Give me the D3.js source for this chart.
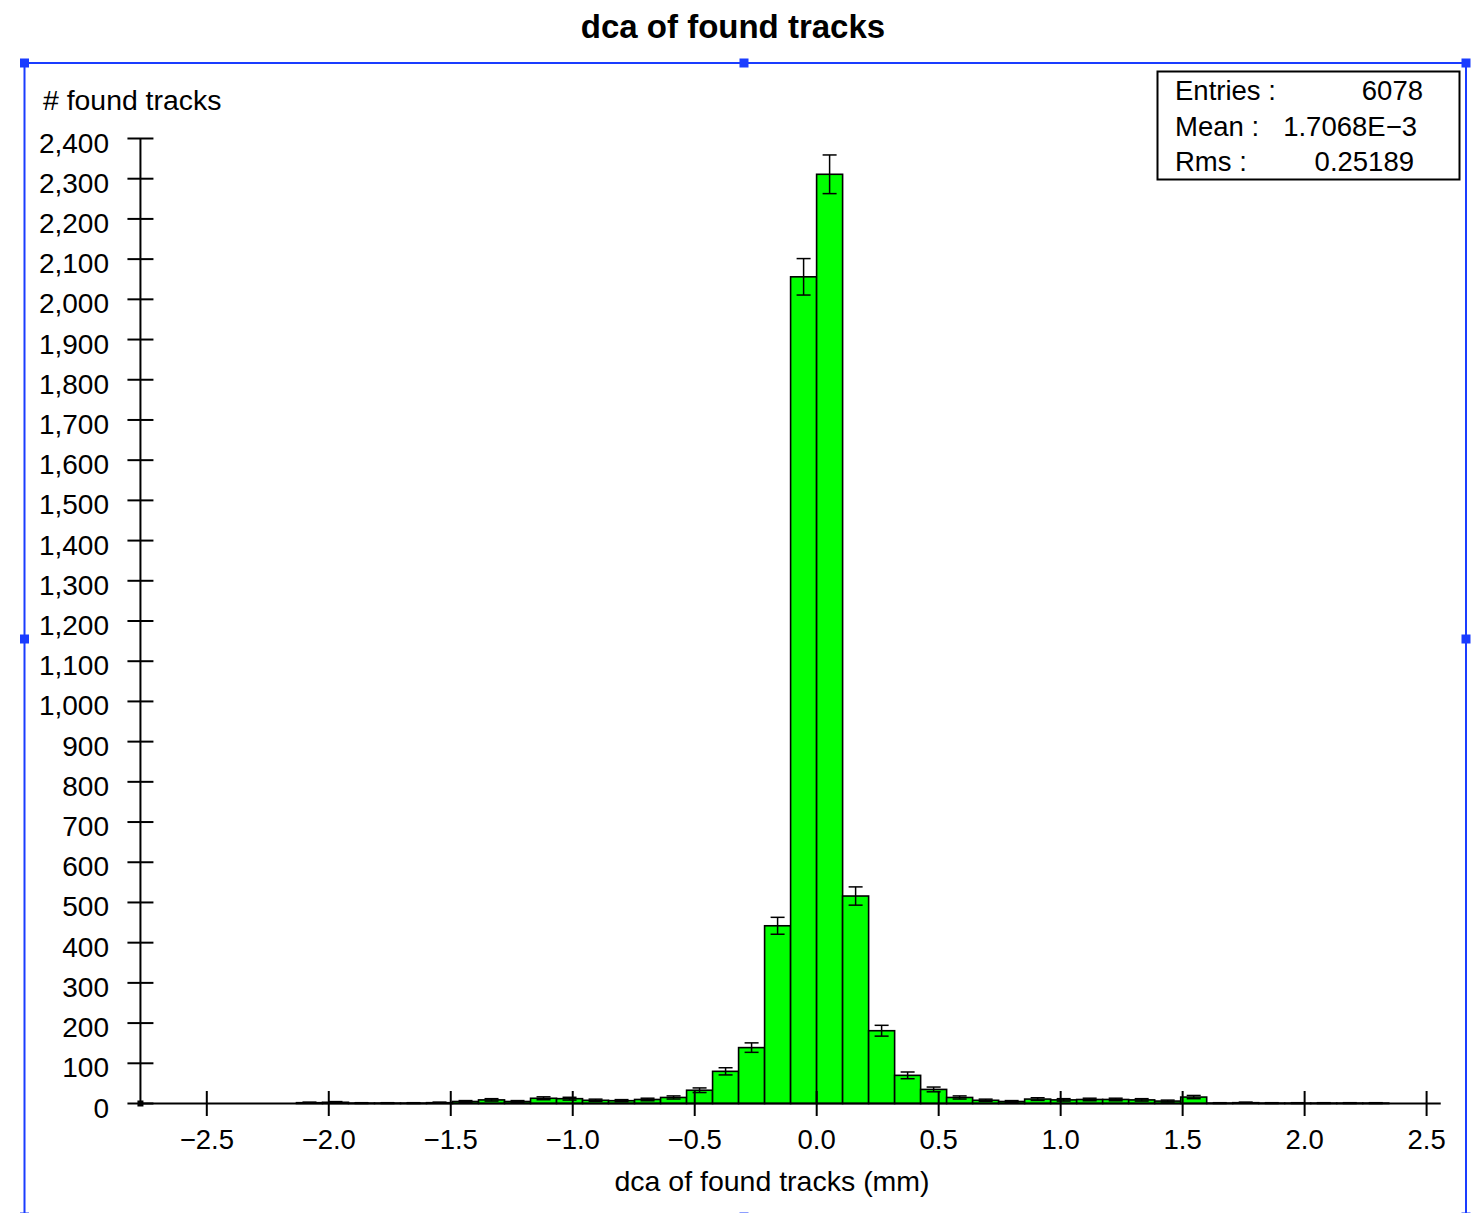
<!DOCTYPE html>
<html>
<head>
<meta charset="utf-8">
<script src="https://cdn.jsdelivr.net/npm/d3@7"></script>
<style>
  html, body { margin: 0; padding: 0; background: #fff; }
  svg { display: block; }
  text { font-family: "Liberation Sans", Arial, Helvetica, sans-serif; fill: #000; }
</style>
</head>
<body>
<script>
// ---------------- data ----------------
const title = "dca of found tracks";
const xLabel = "dca of found tracks (mm)";
const yLabel = "# found tracks";
const binLow = -2.772;        // lower edge of first bin (mm)
const binWidth = 0.1066;      // bin width (mm)
const counts = [
  0, 0, 0, 0, 0, 0, 2, 3, 1, 1,
  1, 2, 5, 9, 5, 13, 12, 8, 7, 10,
  15, 33, 80, 139, 442, 2056, 2311, 516, 181, 70,
  35, 15, 8, 5, 11, 9, 10, 10, 9, 6,
  16, 1, 2, 1, 1, 1, 1, 1, 0, 0
];
const xTicks = [-2.5, -2.0, -1.5, -1.0, -0.5, 0.0, 0.5, 1.0, 1.5, 2.0, 2.5];
const yTicks = d3.range(0, 2401, 100);
const statsLabels = ["Entries :", "Mean :", "Rms :"];
const statsValues = ["6078", "1.7068E\u22123", "0.25189"];

// ---------------- layout ----------------
const W = 1475, H = 1213;
const svg = d3.select("body").append("svg").attr("width", W).attr("height", H);

const x = d3.scaleLinear().domain([-2.5, 2.5]).range([206.8, 1426.6]);
const y = d3.scaleLinear().domain([0, 2400]).range([1103.5, 138.5]);

const bins = counts.map((c, i) => ({ x0: binLow + i * binWidth, x1: binLow + (i + 1) * binWidth, n: c }));

// title
svg.append("text").attr("x", 733).attr("y", 38).attr("text-anchor", "middle")
  .style("font-size", "33px").style("font-weight", "bold").text(title);

// blue selection frame
const blue = "#1a3cff";
const fx0 = 24.5, fy0 = 63, fx1 = 1466, fy1 = 1217;
svg.append("rect").attr("x", fx0).attr("y", fy0).attr("width", fx1 - fx0).attr("height", fy1 - fy0)
  .attr("fill", "none").attr("stroke", blue).attr("stroke-width", 2);
const fxm = 744, fym = 639;
[[fx0, fy0], [fxm, fy0], [fx1, fy0], [fx0, fym], [fx1, fym], [fx0, fy1], [fxm, fy1], [fx1, fy1]]
  .forEach(([hx, hy]) => svg.append("rect").attr("x", hx - 4.5).attr("y", hy - 4.5)
    .attr("width", 9).attr("height", 9).attr("fill", blue));

// bars
const g = svg.append("g");
g.selectAll("rect.bar").data(bins).join("rect").attr("class", "bar")
  .attr("x", d => x(d.x0)).attr("width", d => x(d.x1) - x(d.x0))
  .attr("y", d => y(d.n)).attr("height", d => y(0) - y(d.n))
  .attr("fill", "#00ff00").attr("stroke", "#000").attr("stroke-width", 1.6);

// error bars (sqrt N)
const eb = g.selectAll("g.err").data(bins.filter(d => d.n > 0)).join("g").attr("class", "err")
  .attr("stroke", "#000").attr("stroke-width", 1.5);
const cx = d => (x(d.x0) + x(d.x1)) / 2;
eb.append("line").attr("x1", cx).attr("x2", cx)
  .attr("y1", d => y(d.n + Math.sqrt(d.n))).attr("y2", d => y(Math.max(0, d.n - Math.sqrt(d.n))));
eb.append("line").attr("x1", d => cx(d) - 7).attr("x2", d => cx(d) + 7)
  .attr("y1", d => y(d.n + Math.sqrt(d.n))).attr("y2", d => y(d.n + Math.sqrt(d.n)));
eb.append("line").attr("x1", d => cx(d) - 7).attr("x2", d => cx(d) + 7)
  .attr("y1", d => y(Math.max(0, d.n - Math.sqrt(d.n)))).attr("y2", d => y(Math.max(0, d.n - Math.sqrt(d.n))));

// axes
const xLeft = x(binLow), xRight = x(binLow + counts.length * binWidth);
const ax = svg.append("g").attr("stroke", "#000").attr("stroke-width", 2);
ax.append("line").attr("x1", xLeft).attr("x2", xRight).attr("y1", y(0)).attr("y2", y(0));
ax.append("line").attr("x1", xLeft).attr("x2", xLeft).attr("y1", y(0)).attr("y2", y(2400));
ax.selectAll("line.yt").data(yTicks).join("line").attr("class", "yt")
  .attr("x1", xLeft - 13).attr("x2", xLeft + 13).attr("y1", d => y(d)).attr("y2", d => y(d));
ax.selectAll("line.xt").data(xTicks).join("line").attr("class", "xt")
  .attr("x1", d => x(d)).attr("x2", d => x(d)).attr("y1", y(0) - 12.5).attr("y2", y(0) + 12.5);
svg.append("rect").attr("x", xLeft - 3).attr("y", y(0) - 3).attr("width", 6).attr("height", 6).attr("fill", "#000");

const fmtY = d3.format(",");
svg.selectAll("text.yl").data(yTicks).join("text").attr("class", "yl")
  .attr("x", 109).attr("y", d => y(d) + 14).attr("text-anchor", "end")
  .style("font-size", "28px").text(d => fmtY(d));
const fmtX = d3.format(".1f");
svg.selectAll("text.xl").data(xTicks).join("text").attr("class", "xl")
  .attr("x", d => x(d)).attr("y", 1149).attr("text-anchor", "middle")
  .style("font-size", "27.5px").text(d => fmtX(d));

svg.append("text").attr("x", 43).attr("y", 110).style("font-size", "28.4px").text(yLabel);
svg.append("text").attr("x", 772).attr("y", 1191).attr("text-anchor", "middle")
  .style("font-size", "28.5px").text(xLabel);

// stats box
svg.append("rect").attr("x", 1157.5).attr("y", 71.5).attr("width", 302).attr("height", 108)
  .attr("fill", "#fff").attr("stroke", "#000").attr("stroke-width", 2);
const statRight = [1423, 1417, 1414];
statsLabels.forEach((l, i) => {
  svg.append("text").attr("x", 1175).attr("y", 100 + i * 35.5).style("font-size", "27.5px").text(l);
  svg.append("text").attr("x", statRight[i]).attr("y", 100 + i * 35.5).attr("text-anchor", "end")
    .style("font-size", "27.5px").text(statsValues[i]);
});
</script>
</body>
</html>
